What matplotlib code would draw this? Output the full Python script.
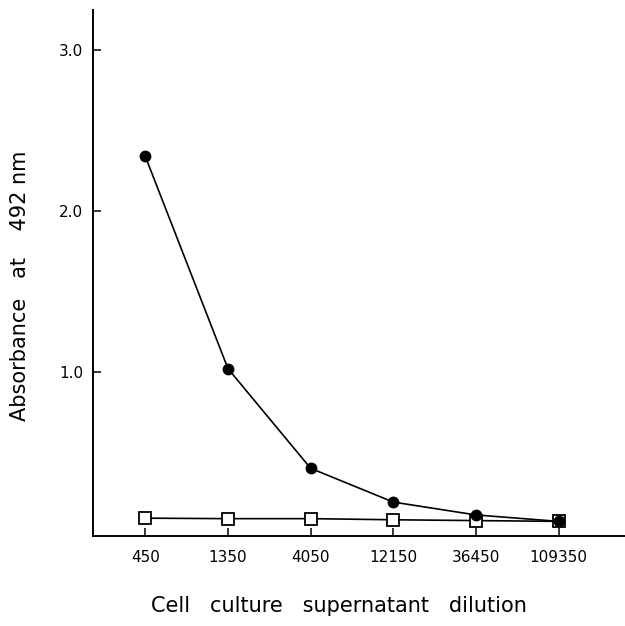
import numpy as np
import matplotlib.pyplot as plt

# dilutions of the supernatant (log scale, factor 3)
dilucoes = [450, 1350, 4050, 12150, 36450, 109350]
rotulos_x = ["450", "1350", "4050", "12150", "36450", "109350"]

# absorbance at 492 nm
positivo = [2.34, 1.02, 0.40, 0.19, 0.11, 0.07]
controle = [0.09, 0.087, 0.087, 0.08, 0.075, 0.07]

fig = plt.figure(figsize=(6.25, 6.26), dpi=100)
ax = fig.add_axes([0.149, 0.144, 0.851, 0.84])

ax.plot(dilucoes, controle, '-s', color='black', markerfacecolor='white',
        markeredgewidth=1.3, markersize=9, linewidth=1.2, zorder=2)
ax.plot(dilucoes, positivo, '-o', color='black', markersize=7.5,
        linewidth=1.2, zorder=3)

ax.set_xscale('log')
ax.set_xlim(225, 264000)
ax.set_ylim(-0.02, 3.25)
ax.set_xticks(dilucoes)
ax.set_xticklabels(rotulos_x)
ax.minorticks_off()
ax.set_yticks([1.0, 2.0, 3.0])
ax.set_yticklabels(["1.0", "2.0", "3.0"])

for lado in ['top', 'right']:
    ax.spines[lado].set_visible(False)
for lado in ['left', 'bottom']:
    ax.spines[lado].set_linewidth(1.4)

ax.tick_params(axis='both', direction='in', length=6, width=1.1,
               labelsize=11, pad=10)
ax.tick_params(axis='y', pad=7)

ax.set_ylabel("Absorbance   at    492 nm", fontsize=15)
ax.set_xlabel("Cell   culture   supernatant   dilution", fontsize=15)
ax.yaxis.set_label_coords(-0.118, 0.475)
ax.xaxis.set_label_coords(0.462, -0.115)

plt.savefig("out.png", dpi=100)
